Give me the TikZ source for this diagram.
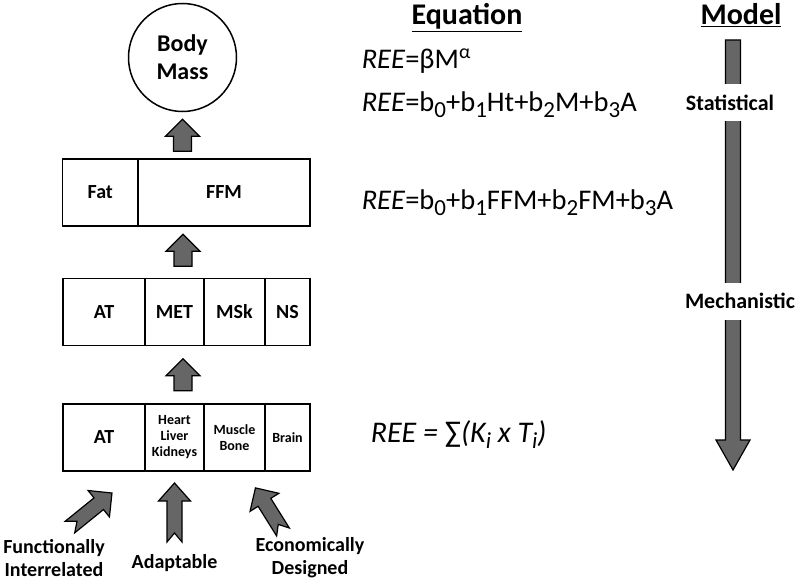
\documentclass[tikz,border=0pt]{standalone}
\usepackage{fontspec}
\setmainfont{Carlito}
\usetikzlibrary{calc}

\definecolor{arrowgray}{RGB}{102,102,102}
\newcommand\lowsub[1]{\raisebox{-6pt}{\fontsize{23}{23}\selectfont #1}}

\tikzset{every picture/.style={line width=1.5pt}}
\tikzset{
  cell/.style={draw, inner sep=0, minimum height=67, align=center, font=\bfseries\fontsize{20}{22}\selectfont},
  smallcell/.style={cell, font=\bfseries\fontsize{14}{16}\selectfont},
  eqtext/.style={inner sep=0, anchor=base west, font=\fontsize{28.5}{32}\selectfont},
  head/.style={inner sep=0, anchor=base, font=\bfseries\fontsize{30}{34}\selectfont},
  lbl/.style={inner sep=0, align=center, font=\bfseries\fontsize{20}{23}\selectfont},
  modellbl/.style={fill=white, inner sep=0, minimum height=37, font=\bfseries\fontsize{22}{24}\selectfont},
  arrowfill/.style={draw, fill=arrowgray, line width=1.2pt, line join=miter},
  pics/blockarrow/.style n args={5}{code={
    \draw[arrowfill] (-#4,0) -- (0,#5) -- (#4,0) -- (#4,#1-#2) -- (#3,#1-#2) -- (0,#1) -- (-#3,#1-#2) -- (-#4,#1-#2) -- cycle;
  }}
}

\begin{document}
\begin{tikzpicture}[x=1pt,y=1pt,yscale=-1,xscale=1]
\useasboundingbox (0,0) rectangle (800,586);

%Shape: Circle
\node[circle, draw, minimum size=108, inner sep=0, align=center, font=\bfseries\fontsize{24}{28}\selectfont] (mass) at (182.5,57.5) {Body\\Mass};

%Shape: Rectangle rows
\node[cell, minimum width=75.5] (fat) at (100.25,192.5) {Fat};
\node[cell, minimum width=172] (ffm) at (224,192.5) {FFM};

\node[cell, minimum width=82] (at) at (104,312) {AT};
\node[cell, minimum width=59] (met) at (174.5,312) {MET};
\node[cell, minimum width=61] (msk) at (234.5,312) {MSk};
\node[cell, minimum width=45] (ns) at (287.5,312) {NS};

\node[cell, minimum width=82] (atis) at (104,437.5) {AT};
\node[smallcell, minimum width=59] (hlk) at (174.5,437.5) {Heart\\Liver\\Kidneys};
\node[smallcell, minimum width=61] (mb) at (234.5,437.5) {Muscle\\Bone};
\node[smallcell, minimum width=45] (brain) at (287.5,437.5) {Brain};

%Block arrows between the levels
\pic at ($(mass.south)!0.5!(mass.south |- ffm.north) + (0,16)$) {blockarrow={32}{17}{17}{9}{0}};
\pic at ($(183,0 |- ffm.south)!0.5!(183,0 |- met.north) + (0,14)$) {blockarrow={32}{17}{17}{9}{0}};
\pic at ($(183,0 |- met.south)!0.5!(183,0 |- hlk.north) + (0,16)$) {blockarrow={32}{17}{17}{9}{0}};

%Notched arrows at the bottom
\pic[rotate=-51] at (70,527) {blockarrow={54}{17}{17}{7.5}{9}};
\pic at (174.5,542) {blockarrow={59}{18}{16}{7.5}{9}};
\pic[rotate=32] at (283,532) {blockarrow={52}{17}{17}{7.5}{9}};

% Text Node
\node[lbl] (func) at (54,558) {Functionally\\Interrelated};
\node[lbl, anchor=base] (adapt) at (174.5,568) {Adaptable};
\node[lbl] (econ) at (310,558) {Economically\\Designed};

% Equations
\node[head] (eqhead) at (467,25) {\underline{Equation}};
\node[eqtext] (eqa) at (361,68) {\textit{REE}=βM\textsuperscript{α}};
\node[eqtext] (eqb) at (361,111) {\textit{REE}=b\lowsub{0}+b\lowsub{1}Ht+b\lowsub{2}M+b\lowsub{3}A};
\node[eqtext] (eqc) at (361,209) {\textit{REE}=b\lowsub{0}+b\lowsub{1}FFM+b\lowsub{2}FM+b\lowsub{3}A};
\node[eqtext, font=\fontsize{30}{34}\selectfont] (eqd) at (370,442) {\textit{REE = }∑\textit{(K\lowsub{i} x T\lowsub{i})}};

% Model scale
\node[head] (modelhead) at (741,25) {\underline{Model}};
\pic[rotate=180] at (733,40) {blockarrow={430}{30}{17}{7.5}{0}};
\node[modellbl] (stat) at (730,102.5) {Statistical};
\node[modellbl] (mech) at (740,301) {Mechanistic};

\end{tikzpicture}
\end{document}
